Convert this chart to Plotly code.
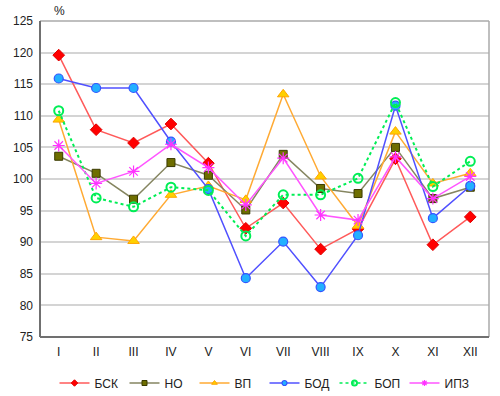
import plotly.graph_objects as go

months = ["I", "II", "III", "IV", "V", "VI", "VII", "VIII", "IX", "X", "XI", "XII"]

bsk = [119.6, 107.8, 105.7, 108.7, 102.5, 92.2, 96.2, 88.9, 92.1, 103.2, 89.6, 94.0]
no = [103.6, 100.9, 96.8, 102.6, 100.6, 95.1, 103.9, 98.5, 97.7, 105.0, 96.9, 98.7]
vp = [109.4, 90.8, 90.2, 97.5, 98.9, 96.7, 113.4, 100.4, 92.6, 107.5, 99.3, 100.9]
bod = [115.9, 114.4, 114.4, 105.9, 98.4, 84.3, 90.1, 82.9, 91.1, 111.6, 93.8, 98.9]
bop = [110.8, 97.0, 95.6, 98.7, 98.2, 91.0, 97.5, 97.5, 100.1, 112.1, 98.8, 102.8]
ipz = [105.3, 99.3, 101.2, 105.5, 101.8, 95.9, 103.3, 94.3, 93.5, 103.5, 96.9, 100.4]

series = [
    ("БСК", bsk, dict(color="#ff5a5a", width=1.5, dash="solid"),
     dict(symbol="diamond", size=9, color="#ff0000", line=dict(color="#e00000", width=1))),
    ("НО", no, dict(color="#858560", width=1.5, dash="solid"),
     dict(symbol="square", size=8, color="#6e6e00", line=dict(color="#3a3a00", width=1))),
    ("ВП", vp, dict(color="#ffaa33", width=1.5, dash="solid"),
     dict(symbol="triangle-up", size=10, color="#ffd000", line=dict(color="#ffa500", width=1))),
    ("БОД", bod, dict(color="#5050ff", width=1.5, dash="solid"),
     dict(symbol="circle", size=9, color="#22b0ff", line=dict(color="#3355ff", width=1.2))),
    ("БОП", bop, dict(color="#00ee55", width=2, dash="dot"),
     dict(symbol="circle-open", size=9, color="#00ee55", line=dict(color="#00ee55", width=2))),
    ("ИПЗ", ipz, dict(color="#ff55ff", width=1.5, dash="solid"),
     dict(symbol="asterisk-open", size=10, color="#ff33ff", line=dict(color="#ff33ff", width=1.2))),
]

fig = go.Figure()
for name, vals, ln, mk in series:
    fig.add_trace(go.Scatter(x=months, y=vals, mode="lines+markers", name=name,
                             line=ln, marker=mk, showlegend=False))
for name, vals, ln, mk in series:
    lmk = dict(mk)
    lmk["size"] = 5
    fig.add_trace(go.Scatter(x=[None], y=[None], mode="lines+markers", name=name,
                             line=dict(ln, width=1.5), marker=lmk, showlegend=True))

# reference line at 100 and frame
fig.add_shape(type="line", xref="paper", yref="y", x0=0, x1=1, y0=100, y1=100,
              line=dict(color="#222222", width=1.5), layer="below")
fig.add_shape(type="line", xref="paper", yref="paper", x0=0, x1=1, y0=1, y1=1,
              line=dict(color="#aaaaaa", width=1.5), layer="above")
fig.add_shape(type="line", xref="paper", yref="paper", x0=1, x1=1, y0=0, y1=1,
              line=dict(color="#aaaaaa", width=1.5), layer="above")
fig.add_shape(type="line", xref="paper", yref="paper", x0=0, x1=0, y0=0, y1=1,
              line=dict(color="#707070", width=2), layer="above")
fig.add_shape(type="line", xref="paper", yref="paper", x0=0, x1=1, y0=0, y1=0,
              line=dict(color="#707070", width=2), layer="above")

fig.add_annotation(text="%", xref="paper", yref="paper", x=0.0, xshift=19, y=1.0, yshift=10,
                   showarrow=False, font=dict(size=12, color="#222222"),
                   xanchor="center", yanchor="middle")

fig.update_layout(
    width=500, height=396,
    margin=dict(l=40, r=11, t=21, b=59, autoexpand=False),
    paper_bgcolor="white", plot_bgcolor="white",
    font=dict(family="Liberation Sans, Arial, sans-serif", size=12, color="#222222"),
    xaxis=dict(type="category", range=[-0.5, 11.5], showgrid=False, zeroline=False,
               showline=False, ticks="", ticklabelstandoff=6, automargin=False,
               tickfont=dict(size=12, color="#222222")),
    yaxis=dict(range=[75, 125], dtick=5, showgrid=True, gridcolor="#d4d4d4", gridwidth=1.5,
               zeroline=False, showline=False, ticks="", ticklabelstandoff=6, automargin=False,
               tickfont=dict(size=12, color="#222222")),
    legend=dict(orientation="h", x=0.5, xanchor="center", y=13 / 396, yref="container",
                yanchor="middle",
                font=dict(size=12, color="#222222"), bgcolor="rgba(0,0,0,0)",
                entrywidth=25, entrywidthmode="pixels"),
    showlegend=True,
)

fig.write_html("out.html", config={"displayModeBar": False},
               post_script="document.body.style.margin='0';document.body.style.overflow='hidden';")
